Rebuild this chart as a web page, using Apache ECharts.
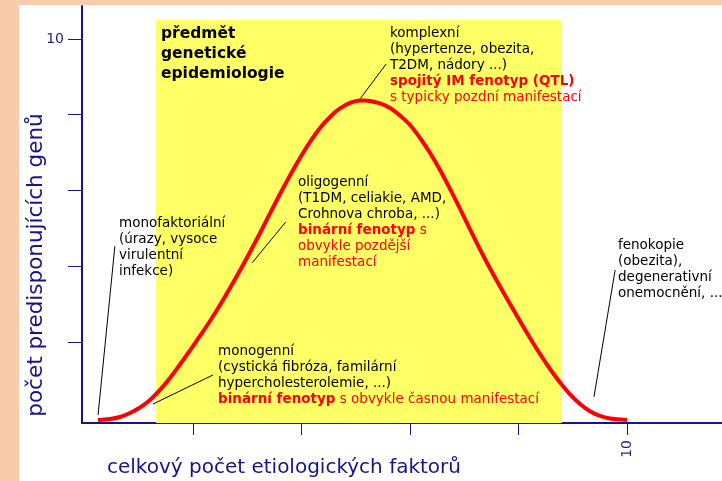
<!DOCTYPE html>
<html><head><meta charset="utf-8">
<script src="https://cdn.jsdelivr.net/npm/echarts@6/dist/echarts.min.js"></script>
<style>html,body{margin:0;padding:0;background:#fff}#c{width:722px;height:481px}</style>
</head><body><div id="c"></div>
<script>
// Curve (x = celkový počet etiologických faktorů, y = počet predisponujících genů)
const curveX = [0.249,0.470,0.654,0.839,1.023,1.207,1.392,1.576,1.760,1.945,2.129,2.313,2.498,2.682,2.866,3.051,3.235,3.419,3.604,3.788,3.972,4.157,4.341,4.525,4.710,4.894,5.078,5.171,5.263,5.447,5.631,5.816,6.000,6.184,6.369,6.553,6.737,6.922,7.106,7.290,7.475,7.659,7.843,8.028,8.212,8.396,8.581,8.765,8.949,9.134,9.318,9.502,9.687,10.0];
const curveY = [-0.059,-0.033,0.020,0.125,0.271,0.469,0.733,1.049,1.406,1.776,2.158,2.554,2.977,3.426,3.888,4.376,4.878,5.393,5.908,6.396,6.858,7.281,7.650,7.941,8.165,8.310,8.376,8.376,8.363,8.297,8.178,7.980,7.729,7.386,6.990,6.541,6.040,5.512,4.970,4.442,3.941,3.465,3.003,2.549,2.106,1.683,1.287,0.931,0.619,0.363,0.170,0.046,-0.020,-0.059];
// Yellow band: x from, x to, y top
const bandX = [1.32, 8.80];
const bandTop = 10.50;
// Pointer lines [[x1,y1],[x2,y2]]
const pointerMono = [[0.25,0.07],[0.56,4.53]];
const pointerMonogen = [[1.26,0.36],[2.37,1.13]];
const pointerOligo = [[3.09,4.09],[3.71,5.17]];
const pointerKomplex = [[5.08,8.42],[5.56,9.34]];
const pointerFeno = [[9.39,0.55],[9.78,3.90]];
const tickValues = [2,4,6,8,10];
const labelValues = [10];
const xRange = [-0.046, 11.75];
const yRange = [-0.139, 10.87];

const FF = 'DejaVu Sans';
const NAVY = '#14148c';
const FS = 13.5, LH = 16;
function tok(color, weight){ return {fill:color, fontWeight:weight, fontSize:FS, fontFamily:FF, lineHeight:LH}; }
const rich = { rb: tok('#ff0000','bold'), r: tok('#ff0000','normal') };
function block(x, y, text){
  return {type:'text', x:x, y:y, z:10, style:{text:text, fill:'#000', fontSize:FS, fontFamily:FF, fontWeight:'normal', lineHeight:LH, verticalAlign:'top', align:'left', rich:rich}};
}

const chart = echarts.init(document.getElementById('c'), null, {renderer:'canvas'});
const pointers = [pointerMono, pointerMonogen, pointerOligo, pointerKomplex, pointerFeno];
const series = [
  {type:'line', data:[], z:1, markArea:{silent:true, itemStyle:{color:'#ffff66'},
    data:[[{coord:[bandX[0], yRange[0]]},{coord:[bandX[1], bandTop]}]]}},
  {type:'line', data:curveX.map((x,i)=>[x,curveY[i]]), smooth:0.3, symbol:'none', z:4,
    lineStyle:{color:'#ff0000', width:4}}
];
pointers.forEach(p => series.push({type:'line', data:p, symbol:'none', z:3, lineStyle:{color:'#000', width:1}}));

chart.setOption({
  animation:false,
  backgroundColor:'#ffffff',
  grid:{left:82, right:0, top:6, bottom:58},
  xAxis:{type:'value', min:xRange[0], max:xRange[1],
    axisLine:{show:true, onZero:false, lineStyle:{color:NAVY, width:2}},
    axisTick:{show:true, length:12, customValues:tickValues, lineStyle:{color:NAVY, width:1}},
    axisLabel:{customValues:labelValues, rotate:90, margin:17, color:'#1f1f8f', fontSize:14, fontFamily:FF},
    splitLine:{show:false}},
  yAxis:{type:'value', min:yRange[0], max:yRange[1],
    axisLine:{show:true, onZero:false, lineStyle:{color:NAVY, width:2}},
    axisTick:{show:true, length:14, customValues:tickValues, lineStyle:{color:NAVY, width:1}},
    axisLabel:{customValues:labelValues, margin:18, color:'#1f1f8f', fontSize:14, fontFamily:FF},
    splitLine:{show:false}},
  series:series,
  graphic:[
    {type:'rect', shape:{x:0,y:0,width:722,height:5}, style:{fill:'#f8cbad'}, z:0},
    {type:'rect', shape:{x:0,y:0,width:19,height:481}, style:{fill:'#f8cbad'}, z:0},
    {type:'text', x:161, y:23.5, z:10, style:{text:'předmět\ngenetické\nepidemiologie', fill:'#000', fontSize:15.5, fontWeight:'bold', fontFamily:FF, lineHeight:20, verticalAlign:'top'}},
    block(390, 25.5, 'komplexní\n(hypertenze, obezita,\nT2DM, nádory ...)\n{rb|spojitý IM fenotyp (QTL)}\n{r|s typicky pozdní manifestací}'),
    block(298, 174, 'oligogenní\n(T1DM, celiakie, AMD,\nCrohnova chroba, ...)\n{rb|binární fenotyp}{r| s}\n{r|obvykle pozdější}\n{r|manifestací}'),
    block(119, 215, 'monofaktoriální\n(úrazy, vysoce\nvirulentní\ninfekce)'),
    block(218, 343, 'monogenní\n(cystická fibróza, familární\nhypercholesterolemie, ...)\n{rb|binární fenotyp}{r| s obvykle časnou manifestací}'),
    block(618, 237, 'fenokopie\n(obezita),\ndegenerativní\nonemocnění, ...'),
    {type:'text', x:284, y:468, z:10, style:{text:'celkový počet etiologických faktorů', fill:NAVY, fontSize:20, fontFamily:FF, align:'center', verticalAlign:'middle'}},
    {type:'text', x:36, y:265, rotation:Math.PI/2, z:10, style:{text:'počet predisponujících genů', fill:NAVY, fontSize:21.5, fontFamily:FF, align:'center', verticalAlign:'middle'}}
  ]
});
</script></body></html>
